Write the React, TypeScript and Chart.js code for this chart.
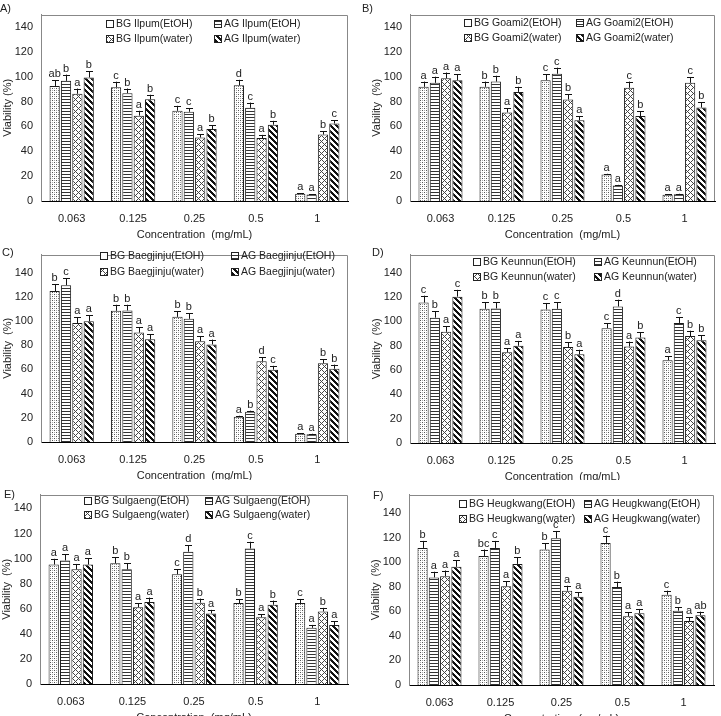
import React, { useEffect, useRef } from 'react';
import { Chart, registerables } from 'chart.js';

Chart.register(...registerables);

// Extract concentrations on the category axis
const concentrations = ['0.063', '0.125', '0.25', '0.5', '1'];
const yTickStep = 20;

// Series order in every panel: BG EtOH, AG EtOH, BG water, AG water
const ilpumMeans = [
  [92.6, 91.5, 72.6, 93.1, 5.8],
  [96.7, 86.8, 71.8, 75.0, 5.2],
  [86.3, 68.7, 51.1, 50.6, 53.5],
  [99.4, 81.8, 57.9, 61.4, 62.4],
];
const ilpumErrors = [
  [4.7, 4.5, 4.0, 4.4, 0.5],
  [5.0, 3.7, 2.9, 4.2, 0.4],
  [4.2, 3.9, 2.6, 2.6, 2.6],
  [5.2, 3.7, 2.9, 3.1, 2.6],
];
const ilpumLetters = [
  ['ab', 'c', 'c', 'd', 'a'],
  ['b', 'b', 'c', 'c', 'a'],
  ['a', 'a', 'a', 'a', 'b'],
  ['b', 'b', 'b', 'b', 'c'],
];

const goamiMeans = [
  [91.9, 91.9, 97.2, 21.4, 5.0],
  [95.1, 96.1, 102.4, 12.5, 5.5],
  [98.7, 71.3, 81.7, 91.1, 95.1],
  [97.2, 87.8, 65.0, 68.4, 75.2],
];
const goamiErrors = [
  [4.2, 4.2, 4.7, 0.5, 0.3],
  [4.9, 4.7, 4.9, 0.5, 0.3],
  [4.7, 3.4, 4.2, 5.0, 4.7],
  [4.9, 4.1, 3.4, 3.7, 4.2],
];
const goamiLetters = [
  ['a', 'b', 'c', 'a', 'a'],
  ['a', 'b', 'c', 'a', 'a'],
  ['a', 'a', 'b', 'c', 'c'],
  ['a', 'b', 'a', 'b', 'b'],
];

const baegjinjuMeans = [
  [124.9, 108.5, 103.5, 20.9, 6.9],
  [129.7, 108.8, 101.9, 25.1, 6.4],
  [98.4, 90.5, 83.4, 66.7, 65.1],
  [99.8, 84.9, 80.7, 59.8, 60.6],
];
const baegjinjuErrors = [
  [5.8, 5.0, 4.7, 0.8, 0.5],
  [5.8, 4.7, 4.5, 0.8, 0.4],
  [4.8, 4.5, 3.9, 3.4, 3.4],
  [5.0, 4.3, 4.0, 3.2, 3.4],
];
const baegjinjuLetters = [
  ['b', 'b', 'b', 'a', 'a'],
  ['c', 'b', 'b', 'b', 'a'],
  ['a', 'a', 'a', 'd', 'b'],
  ['a', 'a', 'a', 'c', 'b'],
];

const keunnunMeans = [
  [115.5, 110.4, 109.9, 94.5, 68.1],
  [103.1, 110.7, 110.4, 112.3, 98.8],
  [91.5, 74.6, 78.9, 79.4, 88.0],
  [120.4, 80.0, 73.0, 86.7, 84.5],
];
const keunnunErrors = [
  [5.7, 5.4, 5.3, 4.0, 3.3],
  [5.1, 5.3, 5.4, 5.6, 4.9],
  [4.6, 3.5, 4.0, 4.1, 4.4],
  [5.6, 4.0, 3.7, 4.3, 4.1],
];
const keunnunLetters = [
  ['c', 'b', 'c', 'c', 'a'],
  ['b', 'b', 'c', 'd', 'c'],
  ['a', 'a', 'b', 'a', 'b'],
  ['c', 'a', 'a', 'b', 'b'],
];

const sulgaengMeans = [
  [95.2, 96.2, 87.5, 64.5, 64.5],
  [98.5, 91.4, 105.5, 108.0, 44.8],
  [91.4, 61.2, 64.8, 53.2, 57.8],
  [95.2, 65.3, 56.3, 63.2, 47.1],
];
const sulgaengErrors = [
  [4.6, 4.9, 4.1, 3.3, 3.3],
  [4.9, 4.8, 5.1, 5.4, 2.3],
  [4.3, 3.0, 3.3, 2.6, 2.9],
  [4.9, 3.6, 2.8, 3.3, 2.8],
];
const sulgaengLetters = [
  ['a', 'b', 'c', 'b', 'c'],
  ['a', 'b', 'd', 'c', 'a'],
  ['a', 'a', 'b', 'a', 'b'],
  ['a', 'a', 'a', 'b', 'a'],
];

const heugkwangMeans = [
  [111.6, 105.1, 110.3, 115.7, 73.5],
  [87.6, 111.6, 119.5, 79.7, 60.5],
  [88.6, 80.3, 76.8, 55.9, 52.2],
  [96.2, 98.6, 71.9, 58.4, 56.8],
];
const heugkwangErrors = [
  [5.7, 5.2, 5.1, 5.9, 3.3],
  [4.6, 5.7, 5.9, 4.4, 3.0],
  [4.6, 4.0, 4.0, 3.3, 2.9],
  [5.2, 5.2, 3.8, 3.5, 2.9],
];
const heugkwangLetters = [
  ['b', 'bc', 'b', 'c', 'c'],
  ['a', 'c', 'c', 'b', 'b'],
  ['a', 'a', 'a', 'a', 'a'],
  ['a', 'b', 'a', 'a', 'ab'],
];

const seriesLabels = ['BG {}(EtOH)', 'AG {}(EtOH)', 'BG {}(water)', 'AG {}(water)'];
const FONT = '"Liberation Sans", Arial, sans-serif';
const TEXT = '#222';

type Frame = { x: number; y: number; w: number; h: number };
type Box = { left: number; top: number; right: number; bottom: number };
type PanelCfg = {
  tag: string;
  variety: string;
  means: number[][];
  errors: number[][];
  letters: string[][];
  yTitle: string;
  yMax: number;
  frame: Frame;
  box: Box;
  tagPos: { x: number; y: number };
  legend: { x1: number; x2: number; y1: number; y2: number };
};

const panels: PanelCfg[] = [
  {
    tag: 'A)', variety: 'Ilpum', means: ilpumMeans, errors: ilpumErrors, letters: ilpumLetters,
    yTitle: 'Viability (%)', yMax: 150,
    frame: { x: 0, y: 0, w: 360, h: 245 },
    box: { left: 41, top: 10, right: 348, bottom: 201 },
    tagPos: { x: 0, y: 9 },
    legend: { x1: 106, x2: 214, y1: 24, y2: 39 },
  },
  {
    tag: 'B)', variety: 'Goami2', means: goamiMeans, errors: goamiErrors, letters: goamiLetters,
    yTitle: 'Vability  (%)', yMax: 150,
    frame: { x: 360, y: 0, w: 361, h: 245 },
    box: { left: 410, top: 10, right: 715, bottom: 201 },
    tagPos: { x: 362, y: 9 },
    legend: { x1: 464, x2: 576, y1: 23, y2: 38 },
  },
  {
    tag: 'C)', variety: 'Baegjinju', means: baegjinjuMeans, errors: baegjinjuErrors, letters: baegjinjuLetters,
    yTitle: 'Viability  (%)', yMax: 155,
    frame: { x: 0, y: 240, w: 360, h: 240 },
    box: { left: 41, top: 247, right: 348, bottom: 442 },
    tagPos: { x: 2, y: 253 },
    legend: { x1: 100, x2: 231, y1: 256, y2: 272 },
  },
  {
    tag: 'D)', variety: 'Keunnun', means: keunnunMeans, errors: keunnunErrors, letters: keunnunLetters,
    yTitle: 'Viability  (%)', yMax: 155,
    frame: { x: 360, y: 240, w: 361, h: 240 },
    box: { left: 410, top: 252, right: 715, bottom: 443 },
    tagPos: { x: 372, y: 253 },
    legend: { x1: 473, x2: 594, y1: 262, y2: 277 },
  },
  {
    tag: 'E)', variety: 'Sulgaeng', means: sulgaengMeans, errors: sulgaengErrors, letters: sulgaengLetters,
    yTitle: 'Viability  (%)', yMax: 151,
    frame: { x: 0, y: 480, w: 360, h: 236 },
    box: { left: 40, top: 487, right: 348, bottom: 684 },
    tagPos: { x: 4, y: 495 },
    legend: { x1: 84, x2: 205, y1: 501, y2: 515 },
  },
  {
    tag: 'F)', variety: 'Heugkwang', means: heugkwangMeans, errors: heugkwangErrors, letters: heugkwangLetters,
    yTitle: 'Viability  (%)', yMax: 155,
    frame: { x: 360, y: 480, w: 361, h: 236 },
    box: { left: 409, top: 493, right: 714, bottom: 685 },
    tagPos: { x: 373, y: 496 },
    legend: { x1: 459, x2: 584, y1: 504, y2: 519 },
  },
];

// Monochrome fills: fine dots, horizontal rules, cross-hatch, heavy back-diagonal
function makeTile(kind: number): HTMLCanvasElement {
  const c = document.createElement('canvas');
  const ctx = c.getContext('2d')!;
  const dot = (x: number, y: number, color: string) => {
    ctx.fillStyle = color;
    ctx.fillRect(x, y, 1, 1);
  };
  if (kind === 0) {
    c.width = 4; c.height = 4;
    ctx.fillStyle = '#fff'; ctx.fillRect(0, 0, 4, 4);
    dot(0, 0, '#555'); dot(2, 2, '#555'); dot(2, 0, '#aaa'); dot(0, 2, '#aaa');
  } else if (kind === 1) {
    c.width = 4; c.height = 3;
    ctx.fillStyle = '#fff'; ctx.fillRect(0, 0, 4, 3);
    ctx.fillStyle = '#333'; ctx.fillRect(0, 0, 4, 1);
  } else if (kind === 2) {
    c.width = 6; c.height = 6;
    ctx.fillStyle = '#fff'; ctx.fillRect(0, 0, 6, 6);
    for (let y = 0; y < 6; y++) {
      for (let x = 0; x < 6; x++) {
        if ((x - y + 6) % 6 === 0 || (x + y) % 6 === 0) dot(x, y, '#444');
      }
    }
  } else {
    c.width = 6; c.height = 6;
    ctx.fillStyle = '#fff'; ctx.fillRect(0, 0, 6, 6);
    for (let y = 0; y < 6; y++) {
      for (let x = 0; x < 6; x++) {
        if (((x - y) % 6 + 6) % 6 < 3) dot(x, y, '#111');
      }
    }
  }
  return c;
}

const decorPlugin = {
  id: 'panelDecor',
  afterDatasetsDraw(chart: any) {
    const ctx = chart.ctx;
    const yScale = chart.scales.y;
    ctx.save();
    ctx.strokeStyle = '#111';
    ctx.lineWidth = 1;
    ctx.fillStyle = TEXT;
    ctx.font = `11px ${FONT}`;
    ctx.textAlign = 'center';
    ctx.textBaseline = 'alphabetic';
    chart.data.datasets.forEach((ds: any, di: number) => {
      const meta = chart.getDatasetMeta(di);
      meta.data.forEach((bar: any, i: number) => {
        const top = yScale.getPixelForValue(ds.data[i] + ds.errors[i]);
        const x = Math.round(bar.x) + 0.5;
        ctx.beginPath();
        ctx.moveTo(x, bar.y);
        ctx.lineTo(x, top);
        ctx.moveTo(x - 3.5, Math.round(top) + 0.5);
        ctx.lineTo(x + 3.5, Math.round(top) + 0.5);
        ctx.stroke();
        ctx.fillText(ds.letters[i], bar.x, top - 3);
      });
    });
    ctx.restore();
  },
  afterDraw(chart: any, _args: any, opts: any) {
    const cfg: PanelCfg = opts.cfg;
    const { ctx, chartArea } = chart;
    const ox = cfg.frame.x;
    const oy = cfg.frame.y;
    ctx.save();
    // grey frame on the top and right of the plot area
    ctx.strokeStyle = '#888';
    ctx.lineWidth = 1;
    ctx.beginPath();
    ctx.moveTo(Math.round(chartArea.left) + 0.5, Math.round(chartArea.top) + 0.5);
    ctx.lineTo(Math.round(chartArea.right) - 0.5, Math.round(chartArea.top) + 0.5);
    ctx.lineTo(Math.round(chartArea.right) - 0.5, Math.round(chartArea.bottom));
    ctx.stroke();

    // legend (2 x 2)
    ctx.font = `10.5px ${FONT}`;
    ctx.textAlign = 'left';
    ctx.textBaseline = 'middle';
    const slots = [
      [cfg.legend.x1, cfg.legend.y1],
      [cfg.legend.x2, cfg.legend.y1],
      [cfg.legend.x1, cfg.legend.y2],
      [cfg.legend.x2, cfg.legend.y2],
    ];
    chart.data.datasets.forEach((ds: any, i: number) => {
      const sx = slots[i][0] - ox;
      const sy = slots[i][1] - oy;
      ctx.fillStyle = i === 0 ? '#fff' : ds.backgroundColor;
      ctx.fillRect(sx, sy - 4, 8, 8);
      ctx.strokeStyle = '#222';
      ctx.strokeRect(sx + 0.5, sy - 3.5, 7, 7);
      ctx.fillStyle = TEXT;
      ctx.fillText(ds.label, sx + 10, sy + 0.5);
    });

    // axis titles and panel tag
    ctx.fillStyle = TEXT;
    ctx.font = `11px ${FONT}`;
    ctx.textAlign = 'center';
    ctx.textBaseline = 'middle';
    ctx.fillText('Concentration  (mg/mL)', (chartArea.left + chartArea.right) / 2, chartArea.bottom + 34);
    ctx.save();
    ctx.translate(chartArea.left - 33, (chartArea.top + chartArea.bottom) / 2);
    ctx.rotate(-Math.PI / 2);
    ctx.fillText(cfg.yTitle, 0, 0);
    ctx.restore();
    ctx.textAlign = 'left';
    ctx.fillText(cfg.tag, cfg.tagPos.x - ox, cfg.tagPos.y - oy);
    ctx.restore();
  },
};

function Panel({ cfg }: { cfg: PanelCfg }) {
  const ref = useRef<HTMLCanvasElement>(null);
  useEffect(() => {
    const canvas = ref.current!;
    const ctx = canvas.getContext('2d')!;
    const fills = [0, 1, 2, 3].map((k) => ctx.createPattern(makeTile(k), 'repeat'));
    const { frame, box } = cfg;
    const chart = new Chart(canvas, {
      type: 'bar',
      data: {
        labels: concentrations,
        datasets: cfg.means.map((values, i) => ({
          label: seriesLabels[i].replace('{}', cfg.variety),
          data: values,
          errors: cfg.errors[i],
          letters: cfg.letters[i],
          backgroundColor: fills[i],
          borderColor: '#1a1a1a',
          borderWidth: 1,
          categoryPercentage: 0.74,
          barPercentage: 0.9,
        })) as any,
      },
      options: {
        animation: false,
        responsive: false,
        maintainAspectRatio: false,
        events: [],
        layout: {
          padding: {
            left: 0,
            top: box.top - frame.y,
            right: frame.w - (box.right - frame.x),
            bottom: 0,
          },
        },
        plugins: {
          legend: { display: false },
          tooltip: { enabled: false },
          panelDecor: { cfg },
        } as any,
        scales: {
          x: {
            grid: { display: false, drawTicks: false },
            border: { display: true, color: '#000', width: 1 },
            ticks: { color: TEXT, font: { family: FONT, size: 11 }, padding: 11, maxRotation: 0 },
            afterFit: (s: any) => {
              s.height = frame.h - (box.bottom - frame.y);
            },
          },
          y: {
            min: 0,
            max: cfg.yMax,
            grid: { display: false, drawTicks: false },
            border: { display: true, color: '#888', width: 1 },
            ticks: {
              stepSize: yTickStep,
              includeBounds: false,
              color: TEXT,
              font: { family: FONT, size: 11 },
              padding: 8,
            },
            afterFit: (s: any) => {
              s.width = box.left - frame.x;
            },
          },
        },
      },
      plugins: [decorPlugin],
    } as any);
    return () => chart.destroy();
  }, [cfg]);
  return (
    <canvas
      ref={ref}
      width={cfg.frame.w}
      height={cfg.frame.h}
      style={{
        position: 'absolute',
        left: cfg.frame.x,
        top: cfg.frame.y,
        width: cfg.frame.w,
        height: cfg.frame.h,
      }}
    />
  );
}

export default function App() {
  return (
    <div
      style={{
        position: 'absolute',
        left: 0,
        top: 0,
        width: 721,
        height: 716,
        background: '#fff',
        overflow: 'hidden',
      }}
    >
      {panels.map((p) => (
        <Panel key={p.tag} cfg={p} />
      ))}
    </div>
  );
}
